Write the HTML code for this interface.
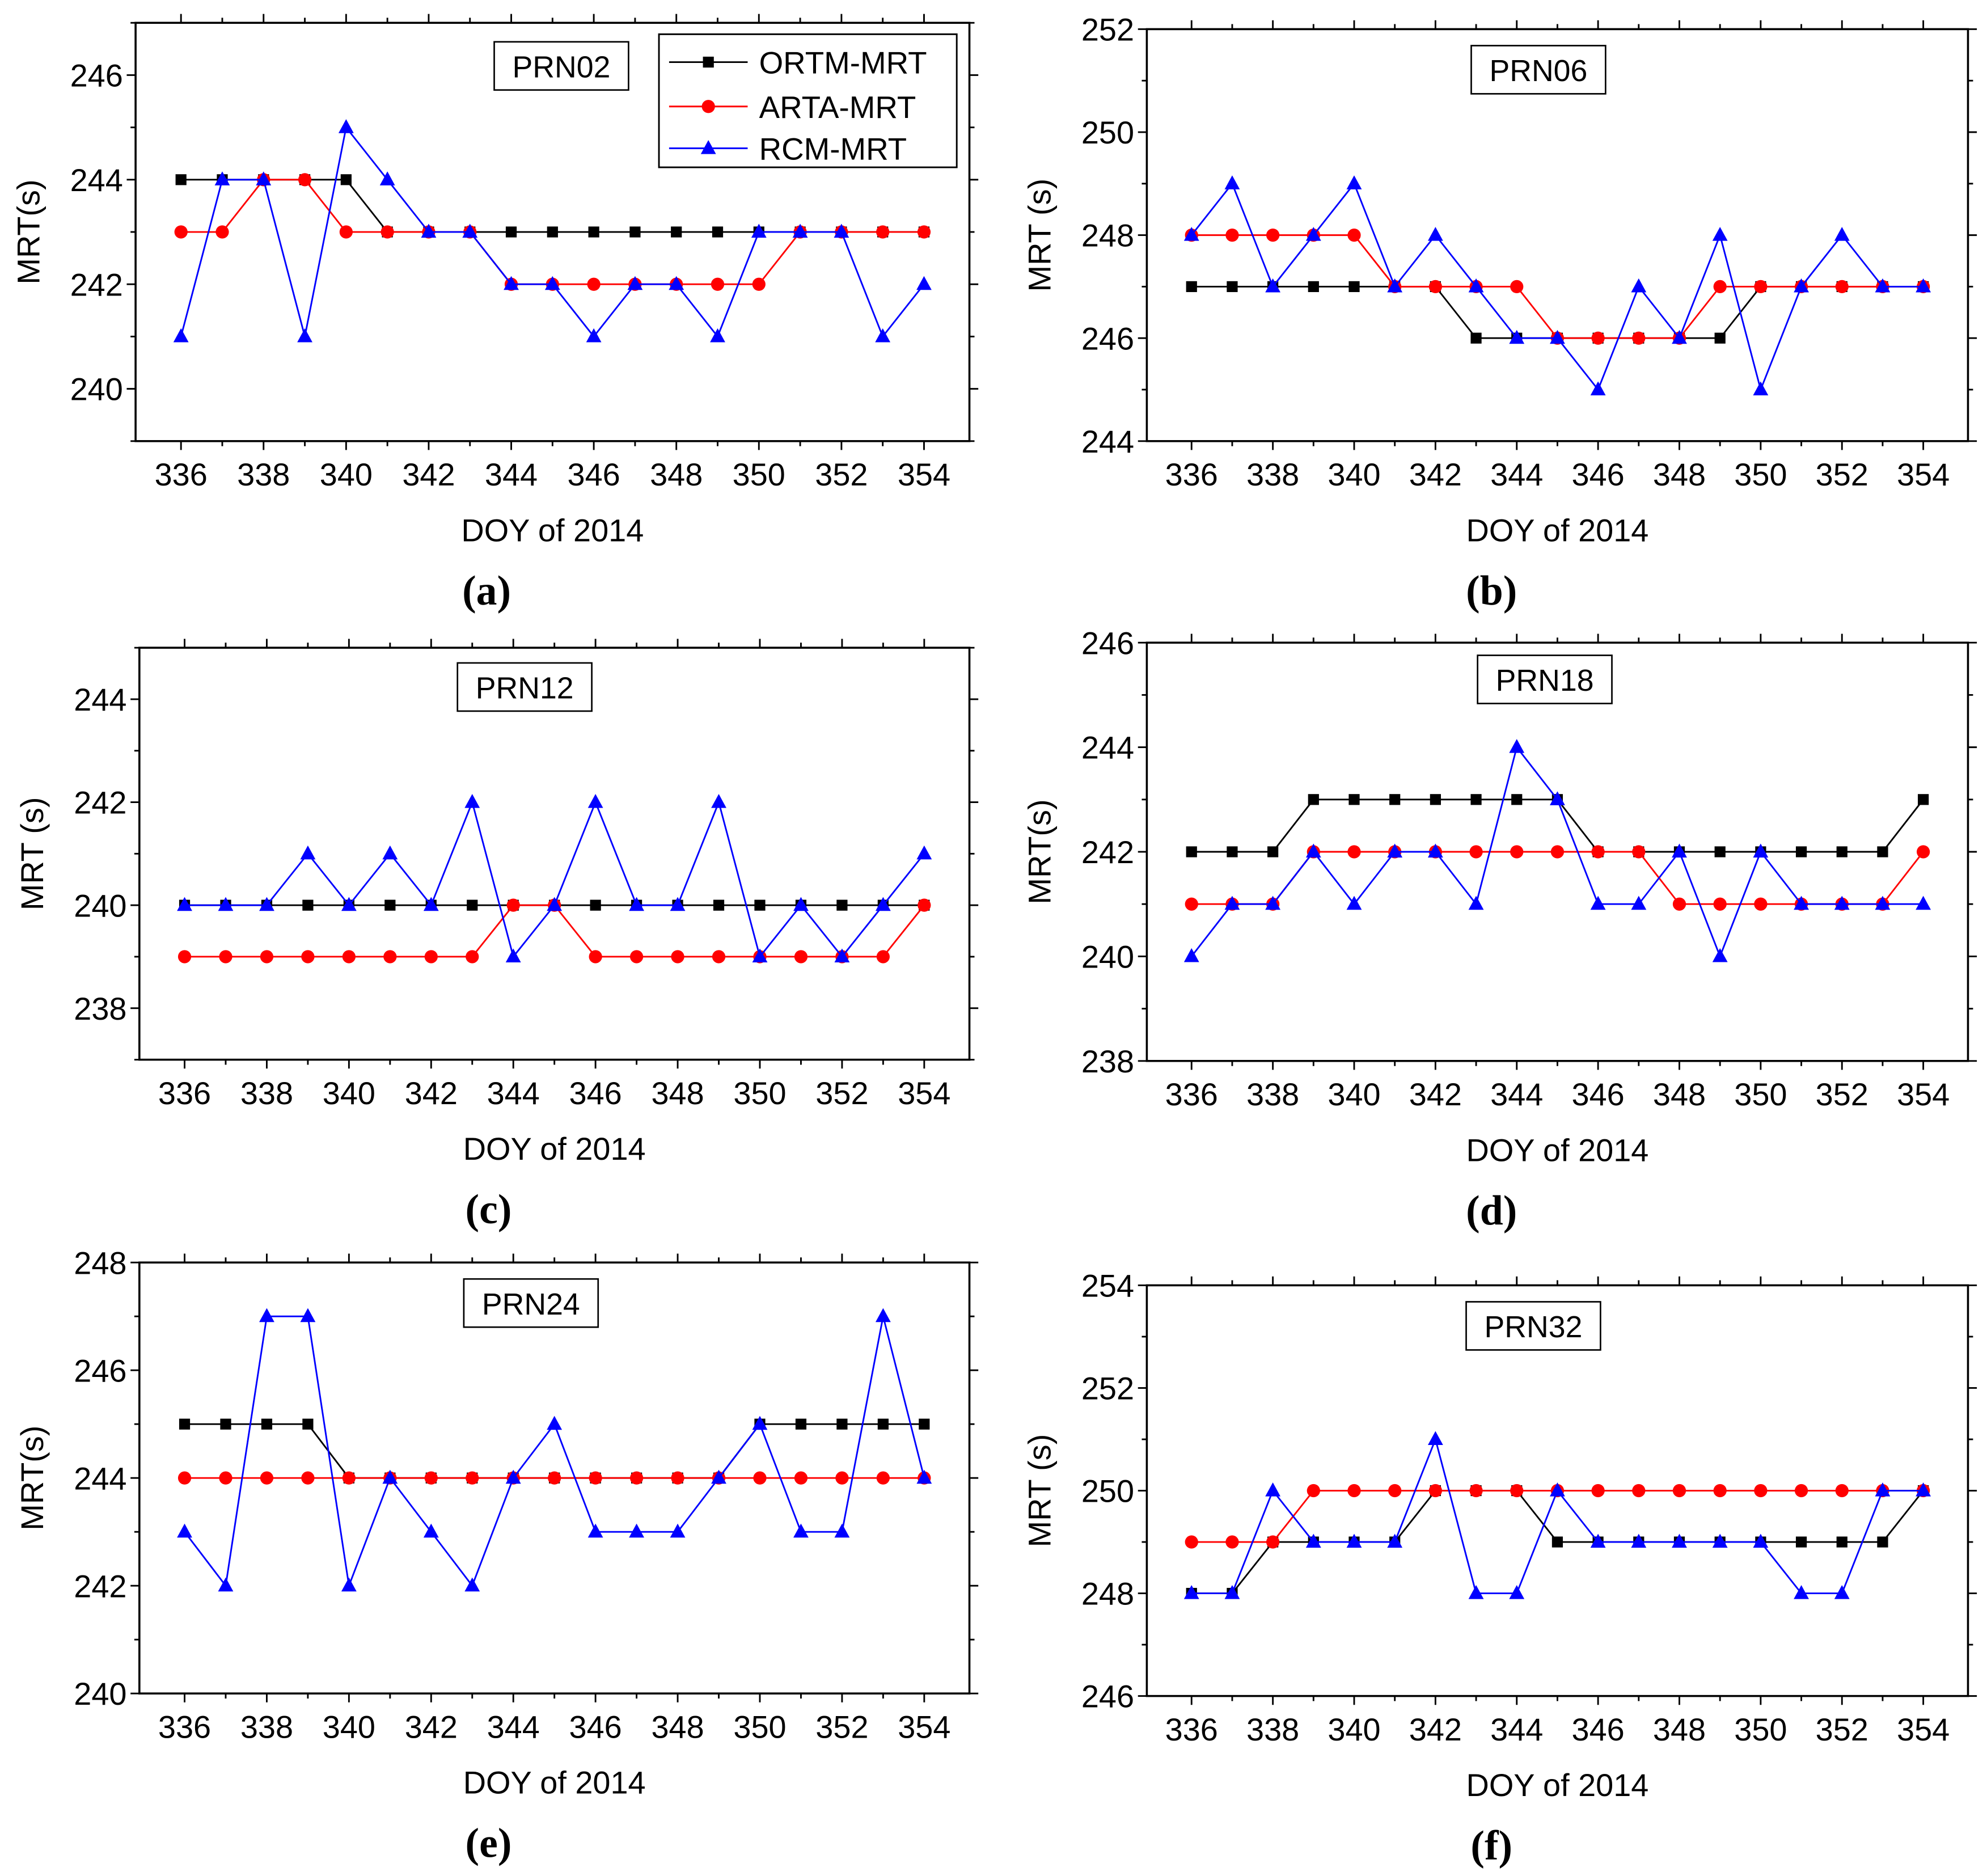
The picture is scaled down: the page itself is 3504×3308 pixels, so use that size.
<!DOCTYPE html>
<html><head><meta charset="utf-8"><style>
html,body{margin:0;padding:0;background:#fff;}
svg{display:block;}
text{font-family:"Liberation Sans",Arial,sans-serif;fill:#000;}
.lab{font-family:"Liberation Serif",serif;font-weight:bold;}
</style></head><body>
<svg id="fig" xmlns="http://www.w3.org/2000/svg" width="3504" height="3308" viewBox="0 0 1568 1480" preserveAspectRatio="none"></svg>
<script>
const days = [336,337,338,339,340,341,342,343,344,345,346,347,348,349,350,351,352,353,354];
const xTicks = [336,338,340,342,344,346,348,350,352,354];
const seriesNames = ["ORTM-MRT","ARTA-MRT","RCM-MRT"];
const panelIds = ["a","b","c","d","e","f"];
const prnLabels = ["PRN02","PRN06","PRN12","PRN18","PRN24","PRN32"];
const yTitles = ["MRT(s)","MRT (s)","MRT (s)","MRT(s)","MRT(s)","MRT (s)"];
const yTicksA = [240,242,244,246];
const yTicksB = [244,246,248,250,252];
const yTicksC = [238,240,242,244];
const yTicksD = [238,240,242,244,246];
const yTicksE = [240,242,244,246,248];
const yTicksF = [246,248,250,252,254];
const ortmA = [244,244,244,244,244,243,243,243,243,243,243,243,243,243,243,243,243,243,243];
const artaA = [243,243,244,244,243,243,243,243,242,242,242,242,242,242,242,243,243,243,243];
const rcmA  = [241,244,244,241,245,244,243,243,242,242,241,242,242,241,243,243,243,241,242];
const ortmB = [247,247,247,247,247,247,247,246,246,246,246,246,246,246,247,247,247,247,247];
const artaB = [248,248,248,248,248,247,247,247,247,246,246,246,246,247,247,247,247,247,247];
const rcmB  = [248,249,247,248,249,247,248,247,246,246,245,247,246,248,245,247,248,247,247];
const ortmC = [240,240,240,240,240,240,240,240,240,240,240,240,240,240,240,240,240,240,240];
const artaC = [239,239,239,239,239,239,239,239,240,240,239,239,239,239,239,239,239,239,240];
const rcmC  = [240,240,240,241,240,241,240,242,239,240,242,240,240,242,239,240,239,240,241];
const ortmD = [242,242,242,243,243,243,243,243,243,243,242,242,242,242,242,242,242,242,243];
const artaD = [241,241,241,242,242,242,242,242,242,242,242,242,241,241,241,241,241,241,242];
const rcmD  = [240,241,241,242,241,242,242,241,244,243,241,241,242,240,242,241,241,241,241];
const ortmE = [245,245,245,245,244,244,244,244,244,244,244,244,244,244,245,245,245,245,245];
const artaE = [244,244,244,244,244,244,244,244,244,244,244,244,244,244,244,244,244,244,244];
const rcmE  = [243,242,247,247,242,244,243,242,244,245,243,243,243,244,245,243,243,247,244];
const ortmF = [248,248,249,249,249,249,250,250,250,249,249,249,249,249,249,249,249,249,250];
const artaF = [249,249,249,250,250,250,250,250,250,250,250,250,250,250,250,250,250,250,250];
const rcmF  = [248,248,250,249,249,249,251,248,248,250,249,249,249,249,249,248,248,250,250];

const NS="http://www.w3.org/2000/svg";
const svg=document.getElementById('fig');
function mk(tag,attrs,parent){const e=document.createElementNS(NS,tag);for(const k in attrs)e.setAttribute(k,attrs[k]);(parent||svg).appendChild(e);return e;}

const panels=[
 {x0:107,x1:765,y0:18,y1:348,ymin:239,ymax:247,yt:yTicksA,s:[ortmA,artaA,rcmA],prn:[443,52],legend:true},
 {x0:905,x1:1553,y0:23,y1:348,ymin:244,ymax:252,yt:yTicksB,s:[ortmB,artaB,rcmB],prn:[1214,55]},
 {x0:110,x1:765,y0:511,y1:836,ymin:237,ymax:245,yt:yTicksC,s:[ortmC,artaC,rcmC],prn:[414,542]},
 {x0:905,x1:1553,y0:507,y1:837,ymin:238,ymax:246,yt:yTicksD,s:[ortmD,artaD,rcmD],prn:[1219,536]},
 {x0:110,x1:765,y0:996,y1:1336,ymin:240,ymax:248,yt:yTicksE,s:[ortmE,artaE,rcmE],prn:[419,1028]},
 {x0:905,x1:1553,y0:1014,y1:1338,ymin:246,ymax:254,yt:yTicksF,s:[ortmF,artaF,rcmF],prn:[1210,1046]},
];
const colors=["#000","#f00","#00f"];

function marker(kind,cx,cy,g,c){
  let m;
  if(kind===0) m=mk('rect',{x:cx-4.3,y:cy-4.3,width:8.6,height:8.6,fill:c},g);
  else if(kind===1) m=mk('circle',{cx:cx,cy:cy,r:5.2,fill:c},g);
  else m=mk('polygon',{points:`${cx},${cy-6.5} ${cx-6},${cy+4.5} ${cx+6},${cy+4.5}`,fill:c},g);
  
  
}

panels.forEach((p,i)=>{
  const g=mk('g',{});
  
  
  const X=d=>p.x0+(d-334.9)*(p.x1-p.x0)/(355.1-334.9);
  const Y=v=>p.y1-(v-p.ymin)*(p.y1-p.y0)/(p.ymax-p.ymin);
  const frame=mk('rect',{x:p.x0,y:p.y0,width:p.x1-p.x0,height:p.y1-p.y0,fill:'none',stroke:'#000','stroke-width':1.6},g);
  
  
  days.forEach(d=>{
    const major=xTicks.includes(d);const L=major?7:4;const x=X(d);
    mk('line',{x1:x,x2:x,y1:p.y1,y2:p.y1+L,stroke:'#000','stroke-width':1.3},g);
    mk('line',{x1:x,x2:x,y1:p.y0,y2:p.y0-L,stroke:'#000','stroke-width':1.3},g);
  });
  xTicks.forEach(d=>{
    const t=mk('text',{x:X(d),y:p.y1+35,'font-size':25,'text-anchor':'middle'},g);
    t.textContent=d;
    
    
  });
  for(let v=p.ymin;v<=p.ymax;v+=1){
    const major=p.yt.includes(v);const L=major?7:4;const y=Y(v);
    mk('line',{x1:p.x0-L,x2:p.x0,y1:y,y2:y,stroke:'#000','stroke-width':1.3},g);
    mk('line',{x1:p.x1,x2:p.x1+L,y1:y,y2:y,stroke:'#000','stroke-width':1.3},g);
  }
  p.yt.forEach(v=>{
    const t=mk('text',{x:p.x0-10,y:Y(v)+9,'font-size':25,'text-anchor':'end'},g);
    t.textContent=v;
    
    
  });
  const xt=mk('text',{x:(p.x0+p.x1)/2,y:p.y1+79,'font-size':25,'text-anchor':'middle'},g);
  xt.textContent='DOY of 2014';
  
  
  const cy=(p.y0+p.y1)/2, tx=p.x0-76;
  const yt=mk('text',{x:tx,y:cy,'font-size':25,'text-anchor':'middle',transform:`rotate(-90 ${tx} ${cy})`},g);
  yt.textContent=yTitles[i];
  
  
  const pl=mk('text',{x:(p.x0+p.x1)/2-52,y:p.y1+129,'font-size':33,'text-anchor':'middle',class:'lab'},g);
  pl.textContent='('+panelIds[i]+')';
  
  
  const pb=mk('rect',{x:p.prn[0]-53,y:p.prn[1]-19,width:106,height:38,fill:'#fff',stroke:'#000','stroke-width':1.2},g);
  
  
  const pt=mk('text',{x:p.prn[0],y:p.prn[1]+9,'font-size':24,'text-anchor':'middle'},g);
  pt.textContent=prnLabels[i];
  
  
  p.s.forEach((vals,k)=>{
    const sg=mk('g',{},g);
    
    
    const pts=vals.map((v,j)=>X(days[j])+','+Y(v)).join(' ');
    const ln=mk('polyline',{points:pts,fill:'none',stroke:colors[k],'stroke-width':1.3},sg);
    
    
    vals.forEach((v,j)=>marker(k,X(days[j]),Y(v),sg,colors[k]));
  });
  if(p.legend){
    const lg=mk('g',{},g);
    
    
    mk('rect',{x:520,y:27,width:235,height:105,fill:'#fff',stroke:'#000','stroke-width':1.3},lg);
    [49,84,117].forEach((yy,k)=>{
      const e=mk('g',{},lg);
      
      
      mk('line',{x1:528,x2:590,y1:yy,y2:yy,stroke:colors[k],'stroke-width':1.3},e);
      marker(k,559,yy,e,colors[k]);
      const t=mk('text',{x:599,y:yy+9,'font-size':24.5},e);
      t.textContent=seriesNames[k];
    });
  }
});
</script>
</body></html>
